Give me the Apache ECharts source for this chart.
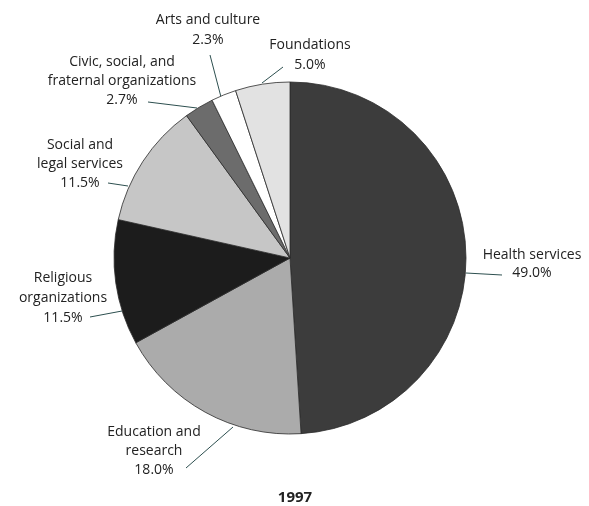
<!DOCTYPE html>
<html>
<head>
<meta charset="utf-8">
<script src="https://cdn.jsdelivr.net/npm/echarts@6/dist/echarts.min.js"></script>
<style>
  html, body { margin: 0; padding: 0; background: #fff; }
  #main { width: 589px; height: 506px; }
</style>
</head>
<body>
<div id="main"></div>
<script>
var categories = [
  'Health services',
  'Education and\nresearch',
  'Religious\norganizations',
  'Social and\nlegal services',
  'Civic, social, and\nfraternal organizations',
  'Arts and culture',
  'Foundations'
];
var values = [49.0, 18.0, 11.5, 11.5, 2.7, 2.3, 5.0];
var colors = ['#3c3c3c', '#ababab', '#1c1c1c', '#c6c6c6', '#6c6c6c', '#ffffff', '#e2e2e2'];
var yearTitle = '1997';

// label block centre + line height, and leader line (edge of pie -> label)
var labelPos = [
  [532, 264, 18],
  [154, 451, 19],
  [63, 298, 20],
  [80, 164, 19],
  [122, 81, 19],
  [208, 30, 20],
  [310, 55, 20]
];
var leader = [
  [[466, 273], [502, 275]],
  [[233, 427], [186, 468]],
  [[122, 311], [90, 317]],
  [[128, 186], [108, 183]],
  [[197, 108], [148, 102]],
  [[221, 97], [210, 55]],
  [[262, 83], [283, 67]]
];

var myChart = echarts.init(document.getElementById('main'));

var data = categories.map(function (c, i) {
  return {
    name: c,
    value: values[i],
    itemStyle: { color: colors[i] },
    label: { lineHeight: labelPos[i][2] }
  };
});

var option = {
  animation: false,
  title: {
    text: yearTitle,
    left: 290,
    top: 485,
    textAlign: 'center',
    textStyle: { fontFamily: 'Open Sans', fontSize: 15, fontWeight: 'bold', color: '#222' }
  },
  series: [{
    type: 'pie',
    center: [290, 258],
    radius: [0, 176],
    startAngle: 90,
    clockwise: true,
    data: data,
    itemStyle: { borderColor: '#2b2b2b', borderWidth: 0.8 },
    label: {
      show: true,
      position: 'outside',
      fontFamily: 'Open Sans',
      fontSize: 14,
      color: '#222',
      align: 'center',
      overflow: 'none',
      formatter: function (p) { return p.name + '\n' + p.value.toFixed(1) + '%'; }
    },
    labelLine: {
      show: true,
      length: 10,
      length2: 10,
      lineStyle: { color: '#2d4f4f', width: 1 }
    },
    labelLayout: function (params) {
      var i = params.dataIndex;
      var pos = labelPos[i];
      return {
        x: pos[0], y: pos[1], align: 'center', verticalAlign: 'middle',
        labelLinePoints: [leader[i][0], leader[i][1], leader[i][1]]
      };
    }
  }]
};
myChart.setOption(option);
</script>
</body>
</html>
